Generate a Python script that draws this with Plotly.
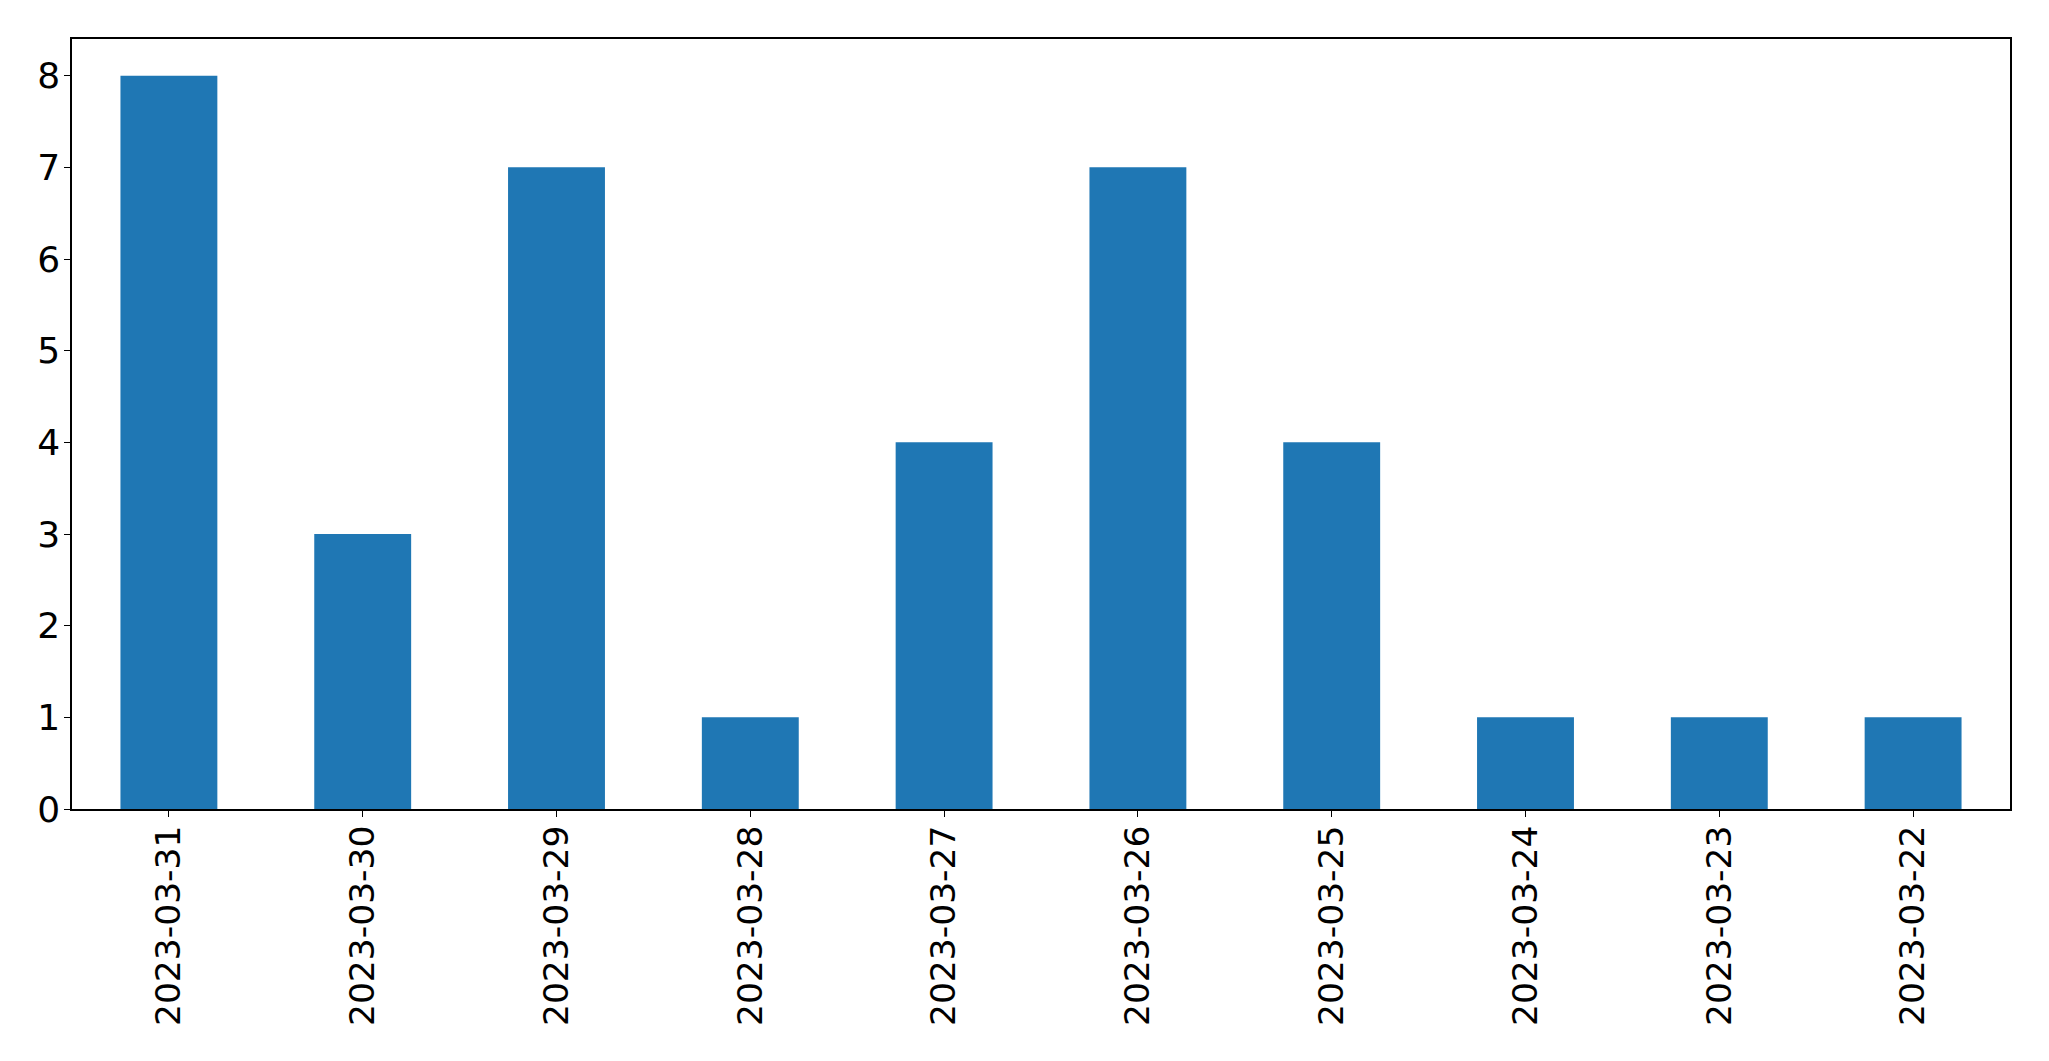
import plotly.graph_objects as go

dates = ["2023-03-31", "2023-03-30", "2023-03-29", "2023-03-28", "2023-03-27",
         "2023-03-26", "2023-03-25", "2023-03-24", "2023-03-23", "2023-03-22"]
counts = [8, 3, 7, 1, 4, 7, 4, 1, 1, 1]

fig = go.Figure(go.Bar(x=list(range(len(dates))), y=counts, width=0.5,
                       marker=dict(color="#1f77b4", line=dict(width=0))))

xfont = dict(family="DejaVu Sans", size=34.5, color="black")
yfont = dict(family="DejaVu Sans", size=36, color="black")
fig.update_layout(
    width=2041, height=1053,
    margin=dict(l=64, r=39, t=31, b=252),
    paper_bgcolor="white", plot_bgcolor="white",
    showlegend=False,
    xaxis=dict(range=[-0.5, 9.5], tickmode="array", tickvals=list(range(len(dates))),
               ticktext=dates, tickangle=-90, ticks="outside", ticklen=6, tickwidth=1.3,
               tickcolor="black", showline=True, linecolor="black", linewidth=1.5,
               mirror=True, showgrid=False, zeroline=False, tickfont=xfont,
               automargin=False, ticklabelstandoff=-5),
    yaxis=dict(range=[0, 8.4], tickmode="array", tickvals=list(range(9)),
               ticks="outside", ticklen=6, tickwidth=1.3, tickcolor="black",
               showline=True, linecolor="black", linewidth=1.5, mirror=True,
               showgrid=False, zeroline=False, tickfont=yfont, automargin=False,
               ticklabelstandoff=-3),
)
fig.write_html("out.html")
